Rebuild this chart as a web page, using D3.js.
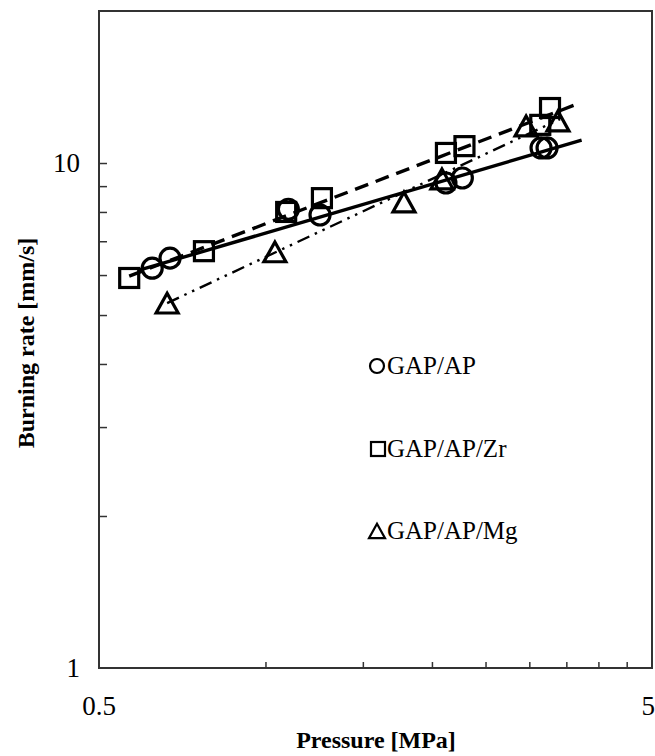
<!DOCTYPE html>
<html>
<head>
<meta charset="utf-8">
<script src="https://cdn.jsdelivr.net/npm/d3@7"></script>
<style>
  html, body { margin: 0; padding: 0; background: #fff; }
  svg { display: block; }
  text { font-family: "Liberation Serif", "Times New Roman", serif; fill: #000; }
</style>
</head>
<body>
<svg id="chart" width="655" height="756"></svg>
<script>
// Burning rate vs pressure (log-log), three propellant formulations
const gapAP = [
  [0.624, 6.19], [0.672, 6.48], [1.10, 8.10], [1.255, 7.89],
  [2.12, 9.13], [2.27, 9.34], [3.15, 10.71], [3.23, 10.71]
];
const gapAPZr = [
  [0.567, 5.92], [0.774, 6.69], [1.09, 8.00], [1.265, 8.52],
  [2.12, 10.47], [2.29, 10.80], [3.14, 11.90], [3.27, 12.85]
];
const gapAPMg = [
  [0.664, 5.28], [1.04, 6.67], [1.78, 8.37], [2.085, 9.30],
  [2.96, 11.84], [3.38, 12.11]
];

// Power-law fit lines, given by their end points [pressure, rate]
const fitAP = [[0.593, 6.14], [3.73, 11.10]];
const fitZr = [[0.567, 5.97], [3.705, 13.15]];
const fitMg = [[0.664, 5.28], [3.41, 12.22]];

const xTickLabels = [0.5, 5];
const xMinorTicks = [1, 1.5, 2, 2.5, 3, 3.5, 4, 4.5];
const yTickLabels = [1, 10];
const yMinorTicks = [2, 3, 4, 5, 6, 7, 8, 9, 10];

const legendNames = ["GAP/AP", "GAP/AP/Zr", "GAP/AP/Mg"];

const svg = d3.select("#chart");
const margin = { left: 99, right: 3, top: 11, bottom: 88 };
const W = 655, H = 756;

const x = d3.scaleLog().domain([0.5, 5]).range([margin.left, W - margin.right]);
const y = d3.scaleLog().domain([1, 20]).range([H - margin.bottom, margin.top]);

const axisColor = "#333";

// plot frame
svg.append("rect")
  .attr("x", x(0.5)).attr("y", y(20))
  .attr("width", x(5) - x(0.5)).attr("height", y(1) - y(20))
  .attr("fill", "none").attr("stroke", axisColor).attr("stroke-width", 2);

// inward minor ticks
svg.append("g").attr("transform", `translate(0,${y(1)})`)
  .call(d3.axisTop(x).tickValues(xMinorTicks).tickSize(6).tickFormat(""))
  .call(g => g.select(".domain").remove())
  .call(g => g.selectAll("line").attr("stroke", axisColor).attr("stroke-width", 1.5));

svg.append("g").attr("transform", `translate(${x(0.5)},0)`)
  .call(d3.axisRight(y).tickValues(yMinorTicks).tickSize(8).tickFormat(""))
  .call(g => g.select(".domain").remove())
  .call(g => g.selectAll("line").attr("stroke", axisColor).attr("stroke-width", 1.5));

// tick labels
svg.append("g").selectAll("text").data(xTickLabels).join("text")
  .attr("x", d => d === 5 ? 655 : x(d)).attr("y", 715)
  .attr("text-anchor", d => d === 5 ? "end" : "middle").attr("font-size", 27)
  .text(d => d);

svg.append("g").selectAll("text").data(yTickLabels).join("text")
  .attr("x", 80).attr("y", d => y(d) + 9)
  .attr("text-anchor", "end").attr("font-size", 27)
  .text(d => d);

// axis titles
svg.append("text")
  .attr("x", 376).attr("y", 748)
  .attr("text-anchor", "middle").attr("font-size", 24).attr("font-weight", "bold")
  .text("Pressure [MPa]");

svg.append("text")
  .attr("transform", `translate(34,343) rotate(-90)`)
  .attr("text-anchor", "middle").attr("font-size", 24).attr("font-weight", "bold")
  .text("Burning rate [mm/s]");

// fit lines
const line = d3.line().x(d => x(d[0])).y(d => y(d[1]));
svg.append("path").datum(fitMg).attr("d", line)
  .attr("fill", "none").attr("stroke", "#000").attr("stroke-width", 2.4)
  .attr("stroke-dasharray", "13,6,2.5,6,2.5,6");
svg.append("path").datum(fitZr).attr("d", line)
  .attr("fill", "none").attr("stroke", "#000").attr("stroke-width", 3.4)
  .attr("stroke-dasharray", "14,8");
svg.append("path").datum(fitAP).attr("d", line)
  .attr("fill", "none").attr("stroke", "#000").attr("stroke-width", 3.4);

// markers
const mk = { stroke: "#000", sw: 3.2 };
function circleAt(g, cx, cy, r, sw) {
  g.append("circle").attr("cx", cx).attr("cy", cy).attr("r", r)
    .attr("fill", "none").attr("stroke", mk.stroke).attr("stroke-width", sw);
}
function squareAt(g, cx, cy, s, sw) {
  g.append("rect").attr("x", cx - s / 2).attr("y", cy - s / 2)
    .attr("width", s).attr("height", s)
    .attr("fill", "none").attr("stroke", mk.stroke).attr("stroke-width", sw);
}
function triangleAt(g, cx, cy, s, sw) {
  const h = s * 0.9;
  g.append("path")
    .attr("d", `M${cx},${cy - h / 2}L${cx + s / 2},${cy + h / 2}L${cx - s / 2},${cy + h / 2}Z`)
    .attr("fill", "none").attr("stroke", mk.stroke).attr("stroke-width", sw)
    .attr("stroke-linejoin", "miter");
}

const gMarks = svg.append("g");
gapAPMg.forEach(d => triangleAt(gMarks, x(d[0]), y(d[1]), 22, mk.sw));
gapAPZr.forEach(d => squareAt(gMarks, x(d[0]), y(d[1]), 19, mk.sw));
gapAP.forEach(d => circleAt(gMarks, x(d[0]), y(d[1]), 10, mk.sw));

// legend
const legendY = [366, 449, 531];
const gLeg = svg.append("g");
circleAt(gLeg, 377, legendY[0], 7, 2.2);
squareAt(gLeg, 378, legendY[1], 14, 2.2);
triangleAt(gLeg, 377, legendY[2], 16, 2.2);

gLeg.selectAll("text").data(legendNames).join("text")
  .attr("x", 387).attr("y", (d, i) => legendY[i] + 8)
  .attr("font-size", 25)
  .text(d => d);
</script>
</body>
</html>
